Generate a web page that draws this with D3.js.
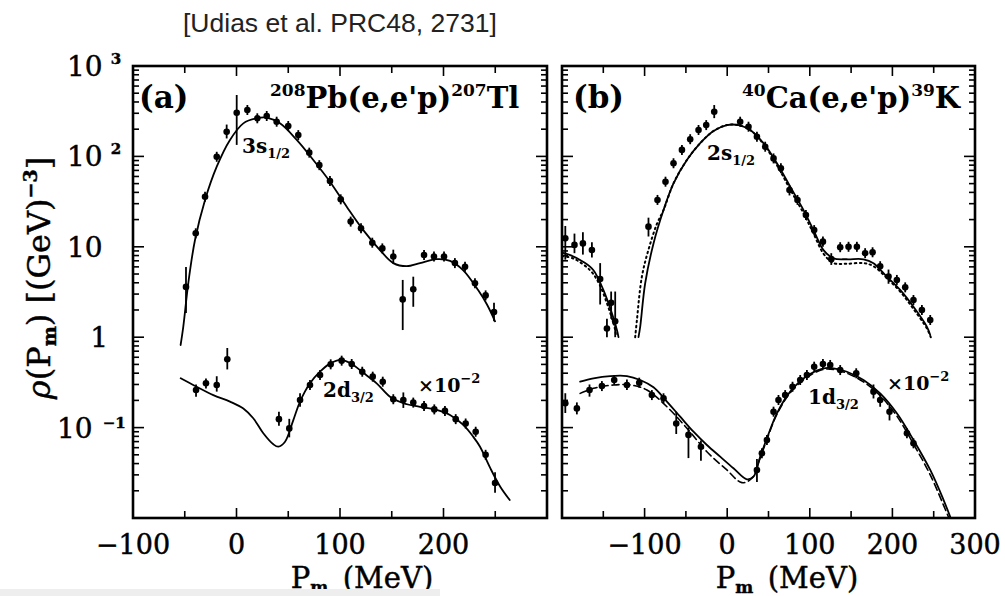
<!DOCTYPE html>
<html>
<head>
<meta charset="utf-8">
<script src="https://cdn.jsdelivr.net/npm/d3@7"></script>
<style>
  html, body { margin: 0; padding: 0; background: #fff; }
  svg { display: block; }
  .fig { font-family: "DejaVu Serif", serif; fill: #000; }
  .heavy { stroke: #000; stroke-width: 0.45px; }
</style>
</head>
<body>
<svg id="chart" width="1005" height="596"></svg>
<script>
// ---- Axis ticks / labels ----
const yTickValues = [1000, 100, 10, 1, 0.1];
const yTickLabels = [["10", "3"], ["10", "2"], ["10", ""], ["1", ""], ["10", "\u22121"]];
const xTicksA = [-100, 0, 100, 200];
const xTicksB = [-100, 0, 100, 200, 300];

// ---- Panel (a): 208Pb(e,e'p)207Tl ----
// data points: [Pm, rho, errLow, errHigh]  (err omitted -> small bar)
const pbS_data = [
  [-48.8, 3.6, 1.85, 5.98], [-39.4, 14.1], [-30.4, 35.8], [-19.1, 99], [-9.5, 187, 158, 225],
  [0.2, 304, 134, 478], [10.5, 326], [20.1, 264], [29.2, 280], [38.8, 242], [50, 217],
  [59.7, 172], [70.3, 110], [80, 80], [90.3, 53.4], [100.7, 33.5], [110.3, 19.0],
  [120.3, 16.0], [131.2, 11.1], [140.9, 9.6], [151.5, 7.8, 6.5, 9.3], [160.6, 2.62, 1.2, 4.3],
  [170.8, 3.39, 2.17, 4.67], [181.2, 8.1], [190.8, 7.8], [200.5, 7.8], [211, 6.6], [220.8, 6.0],
  [230.4, 3.95], [240.7, 2.9], [248.8, 1.9, 1.5, 2.4]
];
const pbS_curve = [
  [-54, 0.82], [-51.4, 1.31], [-46.6, 3.95], [-40.1, 11.9], [-30.4, 33], [-19.1, 76.9],
  [-6.3, 152], [6.6, 232], [19.5, 264], [29.2, 268], [42, 232], [58.2, 152], [74.2, 91.2],
  [90.3, 52.5], [106.5, 27.8], [122.5, 15.3], [138.6, 9.2], [151.5, 6.6], [164.4, 6.1],
  [177.3, 6.6], [193.4, 7.3], [206.3, 7.0], [219.1, 5.5], [233.6, 3.3], [242, 2.3], [249.8, 1.5]
];
const pbD_data = [
  [-39.1, 0.261, 0.22, 0.30], [-29.5, 0.309, 0.27, 0.35], [-19.1, 0.296, 0.25, 0.37],
  [-8.9, 0.57, 0.44, 0.76], [41, 0.124, 0.105, 0.15], [51, 0.098, 0.078, 0.125],
  [61.4, 0.202, 0.17, 0.24], [71, 0.296], [80.7, 0.382], [91, 0.501], [101.6, 0.55],
  [111.3, 0.505], [121.5, 0.415], [131.6, 0.366], [141.3, 0.322], [151.5, 0.206],
  [161.2, 0.202, 0.165, 0.245], [170.8, 0.189], [181.2, 0.173], [191.1, 0.159], [201.4, 0.153],
  [211.8, 0.124], [221.4, 0.111], [231.1, 0.090], [240.7, 0.050], [249.8, 0.0244, 0.019, 0.032]
];
const pbD_curve = [
  [-53.9, 0.351], [-38.5, 0.283], [-22.4, 0.229], [-6.3, 0.194], [6.6, 0.163], [16.2, 0.127],
  [25.9, 0.0865], [35.6, 0.0653], [40.4, 0.0615], [46.9, 0.0698], [54.9, 0.121], [61.4, 0.194],
  [71, 0.309], [80.7, 0.415], [90.3, 0.51], [100.7, 0.56], [111.3, 0.505], [122.5, 0.404],
  [135.4, 0.309], [148.3, 0.22], [161.2, 0.186], [177.3, 0.170], [193.4, 0.157], [206.3, 0.138],
  [219.1, 0.107], [228.8, 0.079], [235.3, 0.0615], [245, 0.036], [255, 0.022], [264, 0.0158]
];

// ---- Panel (b): 40Ca(e,e'p)39K ----
const caS_data = [
  [-196, 12.4, 7.2, 17], [-184.9, 10.5, 8.5, 14], [-174.7, 10.9, 8.2, 14.5], [-163.8, 9.2, 7.6, 11.2],
  [-153.8, 4.4, 2.3, 6.6], [-145.6, 1.25, 1.0, 1.6], [-140.5, 2.4, 1.6, 3.2], [-135.6, 1.5, 1.0, 3.2],
  [-95.3, 16.7, 13, 21], [-84.4, 33], [-74.7, 52.5], [-65, 84], [-54.8, 118], [-44.8, 155],
  [-34.7, 196], [-25.4, 222], [-15.7, 312, 265, 370], [15.7, 242], [25.8, 213], [36, 165],
  [46, 128], [56.1, 95], [65, 74], [75.4, 42.5, 37, 48], [85.1, 33], [95.3, 22.5], [105.3, 15.3],
  [115.9, 11.4, 10, 13], [126, 7.3, 6.3, 8.5], [136.8, 9.9], [146.9, 10.0], [157, 10.0], [167, 8.5],
  [176, 8.7], [185.2, 6.1], [195.3, 4.7, 3.9, 5.6], [205.4, 4.3], [215.5, 3.56], [225.5, 2.58],
  [235.7, 2.0], [245.8, 1.55]
];
const caS_curveLeft = [
  [-200, 8.6], [-190, 8.1], [-174, 6.8], [-161.9, 5.5], [-149.7, 3.3], [-139.6, 1.84], [-133.5, 1.2], [-131.6, 1.0]
];
const caS_dottedLeft = [
  [-200, 7.9], [-186, 7.4], [-166, 5.5], [-155, 3.9], [-145.6, 2.37], [-139, 1.55], [-135.6, 1.2], [-134.5, 1.0]
];
const caS_curve = [
  [-107.4, 1.0], [-105.3, 1.31], [-99.3, 3.95], [-89.2, 10.9], [-77.1, 25.5], [-65, 50.4],
  [-48.8, 91.2], [-32.7, 140], [-16.6, 191], [-0.4, 222], [13.7, 222], [27.8, 196], [43.9, 140],
  [60.2, 84], [76.3, 46.2], [92.4, 25.5], [104.5, 15.3], [116.6, 9.2], [128.7, 7.46], [144.9, 7.28],
  [165, 7.28], [177.1, 6.58], [193.3, 4.67], [209.4, 3.33], [225.5, 2.17], [241.7, 1.31], [245.8, 1.06]
];
const caS_dotted = [
  [-111.4, 1.0], [-109.3, 1.55], [-103.3, 4.67], [-95, 9.5], [-85, 18], [-77.1, 25.5], [-65, 50.4],
  [-48.8, 91.2], [-32.7, 140], [-16.6, 191], [-0.4, 222], [13.7, 222], [27.8, 196], [43.9, 137],
  [60.2, 80], [76.3, 43], [92.4, 23.5], [104.5, 14], [116.6, 8.4], [128.7, 6.6], [144.9, 6.5],
  [165, 6.6], [177.1, 6.1], [193.3, 4.5], [209.4, 3.2], [225.5, 2.05], [241.7, 1.25], [246.5, 1.0]
];
const caD_data = [
  [-196, 0.186, 0.145, 0.24], [-182, 0.163, 0.14, 0.19], [-166.7, 0.261, 0.22, 0.30],
  [-151.7, 0.288], [-136.8, 0.336], [-121.4, 0.296, 0.26, 0.34], [-106.5, 0.314], [-91.2, 0.229],
  [-77.1, 0.211], [-61.7, 0.111, 0.085, 0.15], [-46.9, 0.083, 0.046, 0.10], [-31.8, 0.0615, 0.043, 0.072],
  [36, 0.034, 0.025, 0.045], [42, 0.052], [48.1, 0.073], [56.1, 0.150], [62.1, 0.202], [70.2, 0.229],
  [79.1, 0.283], [88.4, 0.336], [96.5, 0.382], [105.3, 0.472], [115.9, 0.505], [124.7, 0.493],
  [136.8, 0.433], [156.2, 0.399], [177.1, 0.25, 0.21, 0.30], [185.2, 0.202, 0.17, 0.24],
  [196.5, 0.150, 0.12, 0.18], [217.6, 0.0865], [225.5, 0.067]
];
const caD_curve = [
  [-178, 0.322], [-161.9, 0.351], [-141.6, 0.372], [-121.4, 0.372], [-105.3, 0.336], [-89.2, 0.279],
  [-73, 0.194], [-56.9, 0.132], [-40.8, 0.090], [-24.6, 0.0642], [-8.5, 0.0477], [7.6, 0.0355],
  [23.8, 0.0268], [31.8, 0.0286], [40, 0.0477], [48.1, 0.0762], [60.2, 0.144], [76.3, 0.25],
  [96.5, 0.372], [116.6, 0.453], [128.7, 0.453], [144.9, 0.415], [165, 0.336], [185.2, 0.239],
  [205.4, 0.144], [225.5, 0.073], [245.8, 0.034], [262, 0.0158], [270, 0.0103]
];
const caD_dashed = [
  [-178, 0.239], [-161.9, 0.272], [-137.6, 0.296], [-117, 0.296], [-97.2, 0.261], [-73, 0.17],
  [-48.8, 0.0985], [-24.6, 0.0541], [-0.4, 0.034], [17.8, 0.0246], [29.9, 0.0275], [40, 0.0465],
  [48.1, 0.074], [60.2, 0.14], [76.3, 0.243], [96.5, 0.36], [116.6, 0.44], [128.7, 0.44],
  [144.9, 0.4], [165, 0.32], [185.2, 0.226], [205.4, 0.134], [225.5, 0.066], [245.8, 0.030],
  [262, 0.0138], [268, 0.0102]
];

// ---- Layout ----
const svg = d3.select("#chart");
const plotTop = 66, plotBottom = 518;
const y = d3.scaleLog().domain([0.01, 1000]).range([plotBottom, plotTop]);

const panels = [
  { id: "a", x: d3.scaleLinear().domain([-100, 300]).range([133, 547]), titleX: 362 },
  { id: "b", x: d3.scaleLinear().domain([-200, 300]).range([562, 975]), titleX: 787 }
];

// source credit
svg.append("text")
  .attr("x", 183).attr("y", 32)
  .attr("font-family", "Liberation Sans, Arial, sans-serif")
  .attr("font-size", 26.5).attr("fill", "#222")
  .text("[Udias et al. PRC48, 2731]");

function drawFrame(p) {
  const x = p.x;
  const [x0, x1] = x.range();
  const g = svg.append("g");
  // inward ticks on all four sides
  const decade = [0.01, 0.1, 1, 10, 100, 1000];
  const minor = [];
  for (let e = -2; e < 3; e++) for (let m = 2; m <= 9; m++) minor.push(m * Math.pow(10, e));
  decade.forEach(v => {
    g.append("line").attr("x1", x0).attr("x2", x0 + 11).attr("y1", y(v)).attr("y2", y(v));
    g.append("line").attr("x1", x1).attr("x2", x1 - 11).attr("y1", y(v)).attr("y2", y(v));
  });
  minor.forEach(v => {
    g.append("line").attr("x1", x0).attr("x2", x0 + 6).attr("y1", y(v)).attr("y2", y(v));
    g.append("line").attr("x1", x1).attr("x2", x1 - 6).attr("y1", y(v)).attr("y2", y(v));
  });
  const xt = d3.range(x.domain()[0] + 50, x.domain()[1], 50);
  xt.forEach(v => {
    const len = v % 100 === 0 ? 10 : 7;
    g.append("line").attr("x1", x(v)).attr("x2", x(v)).attr("y1", plotBottom).attr("y2", plotBottom - len);
    g.append("line").attr("x1", x(v)).attr("x2", x(v)).attr("y1", plotTop).attr("y2", plotTop + len);
  });
  g.selectAll("line").attr("stroke", "#000").attr("stroke-width", 1.6);
  g.append("rect").attr("x", x0).attr("y", plotTop).attr("width", x1 - x0).attr("height", plotBottom - plotTop)
    .attr("fill", "none").attr("stroke", "#000").attr("stroke-width", 2.6);
}

function curve(p, data, dash, width) {
  const line = d3.line().x(d => p.x(d[0])).y(d => y(d[1])).curve(d3.curveCatmullRom.alpha(0.5));
  svg.append("path").datum(data).attr("d", line)
    .attr("fill", "none").attr("stroke", "#000").attr("stroke-width", width || 1.8)
    .attr("stroke-dasharray", dash || null).attr("stroke-linecap", "round");
}

function points(p, data) {
  const g = svg.append("g");
  data.forEach(d => {
    const cx = p.x(d[0]), cy = y(d[1]);
    const y1 = d.length > 2 ? y(d[2]) : cy + 5;
    const y2 = d.length > 2 ? y(d[3]) : cy - 5;
    g.append("line").attr("x1", cx).attr("x2", cx).attr("y1", y1).attr("y2", y2)
      .attr("stroke", "#000").attr("stroke-width", 1.8);
    g.append("circle").attr("cx", cx).attr("cy", cy).attr("r", 3.3).attr("fill", "#000");
  });
}

panels.forEach(drawFrame);
const [pa, pb] = panels;

curve(pa, pbS_curve);
curve(pa, pbD_curve);
points(pa, pbS_data);
points(pa, pbD_data);

curve(pb, caS_curveLeft);
curve(pb, caS_dottedLeft, "1.5,3.5", 2);
curve(pb, caS_curve);
curve(pb, caS_dotted, "1.5,3.5", 2);
curve(pb, caD_curve);
curve(pb, caD_dashed, "7,4", 1.6);
points(pb, caS_data);
points(pb, caD_data);

// ---- y tick labels (panel a only) ----
const fig = svg.append("g").attr("class", "fig");
yTickValues.forEach((v, i) => {
  const [base, sup] = yTickLabels[i];
  const t = fig.append("text").attr("class", "heavy").attr("y", y(v) + 10).attr("font-size", 28);
  if (base === "1") {
    t.attr("x", 108).attr("text-anchor", "end").text("1");
  } else if (sup === "\u22121") {
    t.attr("x", 57).text(base);
    t.append("tspan").attr("dx", 10).attr("dy", -10).attr("font-size", 15).attr("font-weight", "bold").text(sup);
  } else {
    t.attr("x", 67).text(base);
    if (sup) t.append("tspan").attr("dx", 8).attr("dy", -12).attr("font-size", 15).attr("font-weight", "bold").text(sup);
  }
});

// ---- x tick labels ----
[[pa, xTicksA], [pb, xTicksB]].forEach(([p, ticks]) => {
  ticks.forEach(v => {
    fig.append("text").attr("class", "heavy").attr("x", p.x(v)).attr("y", 554).attr("text-anchor", "middle")
      .attr("font-size", 27).text(v < 0 ? "\u2212" + Math.abs(v) : v);
  });
});

// ---- axis titles ----
panels.forEach(p => {
  const t = fig.append("text").attr("class", "heavy").attr("x", p.titleX).attr("y", 588)
    .attr("text-anchor", "middle").attr("font-size", 29);
  t.append("tspan").text("P");
  t.append("tspan").attr("dy", 5).attr("font-size", 17).attr("font-weight", "bold").text("m");
  t.append("tspan").attr("dy", -5).text("\u2002(MeV)");
});

const yt = fig.append("text").attr("class", "heavy").attr("transform", "translate(50,278) rotate(-90)")
  .attr("text-anchor", "middle").attr("font-size", 32);
yt.append("tspan").attr("font-style", "italic").text("\u03c1");
yt.append("tspan").text("(P");
yt.append("tspan").attr("dy", 6).attr("font-size", 19).attr("font-weight", "bold").text("m");
yt.append("tspan").attr("dy", -6).text(") [(GeV)");
yt.append("tspan").attr("dy", -13).attr("font-size", 19).attr("font-weight", "bold").text("\u22123");
yt.append("tspan").attr("dy", 13).text("]");

// ---- panel labels and reactions ----
fig.append("text").attr("x", 139).attr("y", 108).attr("font-size", 31).attr("font-weight", "bold").text("(a)");
fig.append("text").attr("x", 573).attr("y", 108).attr("font-size", 31).attr("font-weight", "bold").text("(b)");

function reaction(x, parts) {
  const t = fig.append("text").attr("x", x).attr("y", 108).attr("font-size", 29).attr("font-weight", "bold");
  parts.forEach(([s, sup], i) => {
    const dy = i === 0 ? (sup ? -12 : 0) : (sup ? -12 : 12);
    const ts = t.append("tspan").attr("dy", dy).text(s);
    if (sup) ts.attr("font-size", 17);
  });
}
reaction(270, [["208", 1], ["Pb(e,e'p)", 0], ["207", 1], ["Tl", 0]]);
reaction(742, [["40", 1], ["Ca(e,e'p)", 0], ["39", 1], ["K", 0]]);

// ---- state labels ----
function state(x, yPos, n, l, j) {
  const t = fig.append("text").attr("x", x).attr("y", yPos).attr("font-size", 20).attr("font-weight", "bold");
  t.append("tspan").text(n + l);
  t.append("tspan").attr("dy", 5).attr("font-size", 13).text(j);
}
state(242, 153, "3", "s", "1/2");
state(323, 397, "2", "d", "3/2");
state(707, 160, "2", "s", "1/2");
state(808, 404, "1", "d", "3/2");

function scaleNote(x, yPos) {
  const t = fig.append("text").attr("x", x).attr("y", yPos).attr("font-size", 19).attr("font-weight", "bold");
  t.append("tspan").text("\u00d710");
  t.append("tspan").attr("dy", -9).attr("font-size", 13).text("\u22122");
}
scaleNote(418, 392);
scaleNote(887, 390);

// light strip along the lower left edge
svg.append("rect").attr("x", 0).attr("y", 589).attr("width", 440).attr("height", 7).attr("fill", "#eeeeee");
</script>
</body>
</html>
